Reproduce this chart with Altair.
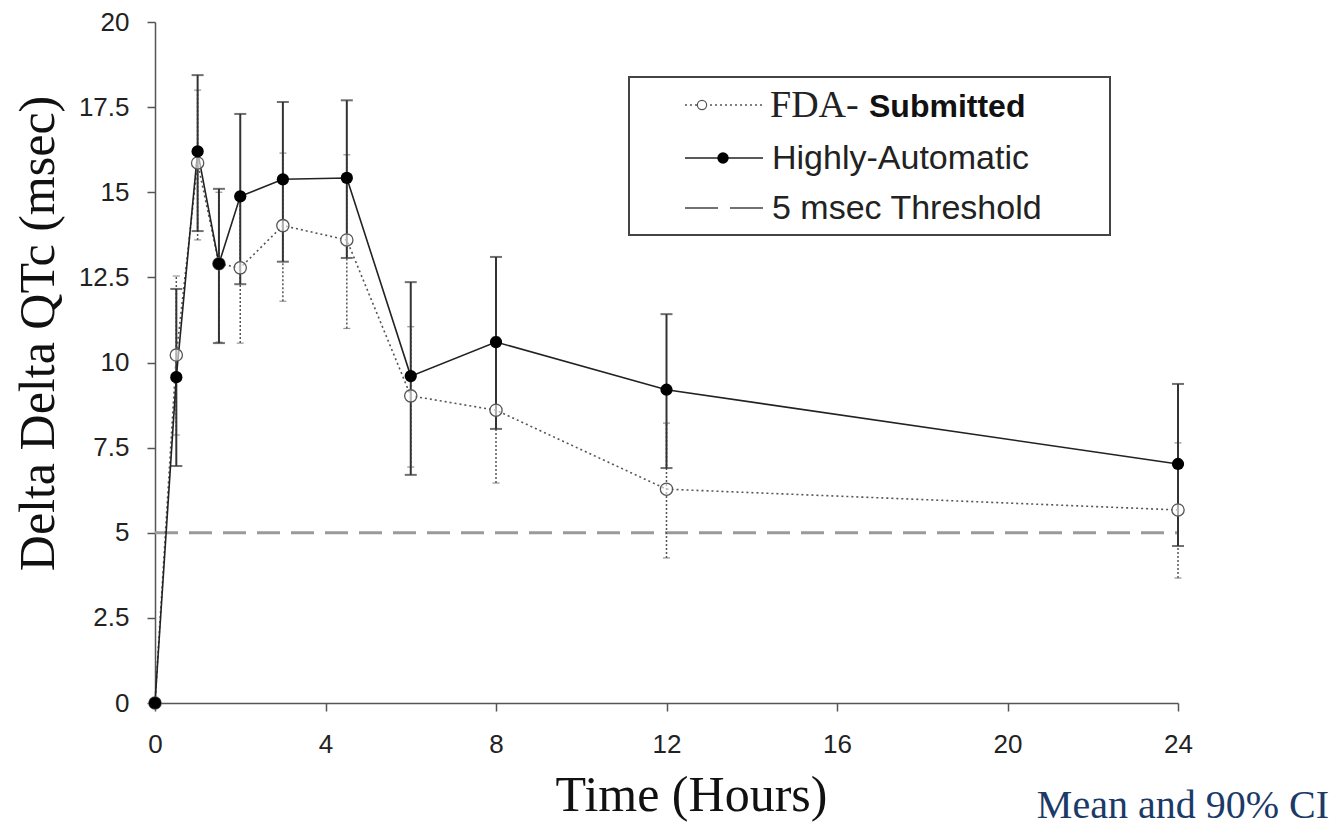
import altair as alt
import pandas as pd

# ---- data ----
times = [0, 0.5, 1, 1.5, 2, 3, 4.5, 6, 8, 12, 24]

auto_mean = [0, 9.57, 16.2, 12.9, 14.88, 15.38, 15.42, 9.6, 10.6, 9.2, 7.02]
auto_lo = [None, 6.96, 13.86, 10.57, 12.3, 12.96, 13.07, 6.7, 8.05, 6.9, 4.61]
auto_hi = [None, 12.16, 18.44, 15.1, 17.3, 17.65, 17.7, 12.36, 13.1, 11.42, 9.37]

fda_mean = [0, 10.22, 15.86, 12.9, 12.78, 14.02, 13.6, 9.02, 8.6, 6.28, 5.67]
fda_lo = [None, 7.87, 13.6, 10.6, 10.57, 11.8, 11.0, 6.93, 6.46, 4.26, 3.67]
fda_hi = [None, 12.54, 18.0, 15.0, 15.0, 16.15, 16.1, 11.05, 10.75, 8.22, 7.64]

threshold = 5
x_ticks = [0, 4, 8, 12, 16, 20, 24]
y_ticks = [0, 2.5, 5, 7.5, 10, 12.5, 15, 17.5, 20]

legend_labels = ["FDA-", "Submitted", "Highly-Automatic", "5 msec Threshold"]
note_text = "Mean and 90% CI"

auto = pd.DataFrame({"time": times, "mean": auto_mean, "lo": auto_lo, "hi": auto_hi})
fda = pd.DataFrame({"time": times, "mean": fda_mean, "lo": fda_lo, "hi": fda_hi})
thr = pd.DataFrame({"x": [0], "x2": [24], "y": [threshold]})

W, H = 1023, 681
xs = alt.Scale(domain=[0, 24], nice=False, zero=False)
ys = alt.Scale(domain=[0, 20], nice=False)

X = alt.X("time:Q", scale=xs,
          axis=alt.Axis(values=x_ticks, title="Time (Hours)", labelExpr="toString(datum.value)",
                        titleX=536, titleY=107, titleAlign="center", titleBaseline="alphabetic"))
Y = alt.Y("mean:Q", scale=ys,
          axis=alt.Axis(values=y_ticks, title="Delta Delta QTc (msec)", labelExpr="toString(datum.value)",
                        titleX=-102, titleY=311, titleAlign="center", titleBaseline="alphabetic",
                        titleAngle=270))

base_a = alt.Chart(auto)
base_f = alt.Chart(fda)

threshold_line = alt.Chart(thr).mark_rule(
    color="#9a9a9a", strokeWidth=3, strokeDash=[23, 11]
).encode(x=alt.X("x:Q", scale=xs), x2="x2:Q", y=alt.Y("y:Q", scale=ys))

# FDA error bars (dotted)
f_err = base_f.transform_filter("datum.lo != null").mark_rule(
    color="#555", strokeWidth=1.5, strokeDash=[2, 2]
).encode(x=alt.X("time:Q", scale=xs), y=alt.Y("lo:Q", scale=ys), y2="hi:Q")
f_cap_lo = base_f.transform_filter("datum.lo != null").mark_tick(
    color="#666", thickness=1.2, size=7, orient="horizontal"
).encode(x=alt.X("time:Q", scale=xs), y=alt.Y("lo:Q", scale=ys))
f_cap_hi = base_f.transform_filter("datum.lo != null").mark_tick(
    color="#666", thickness=1.2, size=7, orient="horizontal"
).encode(x=alt.X("time:Q", scale=xs), y=alt.Y("hi:Q", scale=ys))

# Highly-automatic error bars (solid)
a_err = base_a.transform_filter("datum.lo != null").mark_rule(
    color="#333", strokeWidth=2
).encode(x=alt.X("time:Q", scale=xs), y=alt.Y("lo:Q", scale=ys), y2="hi:Q")
a_cap_lo = base_a.transform_filter("datum.lo != null").mark_tick(
    color="#333", thickness=2, size=12, orient="horizontal"
).encode(x=alt.X("time:Q", scale=xs), y=alt.Y("lo:Q", scale=ys))
a_cap_hi = base_a.transform_filter("datum.lo != null").mark_tick(
    color="#333", thickness=2, size=12, orient="horizontal"
).encode(x=alt.X("time:Q", scale=xs), y=alt.Y("hi:Q", scale=ys))

f_line = base_f.mark_line(color="#555", strokeWidth=1.6, strokeDash=[2, 3]).encode(x=X, y=Y)
a_line = base_a.mark_line(color="#222", strokeWidth=1.6).encode(x=X, y=Y)

f_pts = base_f.mark_point(
    shape="circle", size=150, filled=False, color="#555", strokeWidth=1.3, fill="white", fillOpacity=0.6
).encode(x=X, y=Y)
a_pts = base_a.mark_point(
    shape="circle", size=150, filled=True, color="#000", opacity=1
).encode(x=X, y=Y)

# ---- hand-made legend box ----
one = pd.DataFrame({"k": [0]})
lg = alt.Chart(one)
box = lg.mark_rect(fill="white", stroke="#444", strokeWidth=2).encode(
    x=alt.value(474), x2=alt.value(955), y=alt.value(55), y2=alt.value(213))
r1 = 83
r2 = 136
r3 = 186
leg_l1 = lg.mark_rule(color="#555", strokeWidth=1.5, strokeDash=[2, 3]).encode(
    x=alt.value(530), x2=alt.value(608), y=alt.value(r1))
leg_p1 = lg.mark_point(shape="circle", size=85, filled=False, color="#555", fill="white",
                       fillOpacity=1, strokeWidth=1.2).encode(x=alt.value(547), y=alt.value(r1))
leg_t1a = lg.mark_text(text=legend_labels[0], font="Liberation Serif", fontSize=38,
                       align="left", baseline="alphabetic", color="#222").encode(
    x=alt.value(615), y=alt.value(r1 + 12))
leg_t1b = lg.mark_text(text=legend_labels[1], font="Liberation Sans", fontSize=32, fontWeight="bold",
                       align="left", baseline="alphabetic", color="#111").encode(
    x=alt.value(714), y=alt.value(r1 + 12))
leg_l2 = lg.mark_rule(color="#222", strokeWidth=1.6).encode(
    x=alt.value(530), x2=alt.value(608), y=alt.value(r2))
leg_p2 = lg.mark_point(shape="circle", size=130, filled=True, color="#000", opacity=1).encode(
    x=alt.value(568), y=alt.value(r2))
leg_t2 = lg.mark_text(text=legend_labels[2], font="Liberation Sans", fontSize=34,
                      align="left", baseline="middle", color="#222").encode(
    x=alt.value(617), y=alt.value(r2 + 1))
leg_l3 = lg.mark_rule(color="#444", strokeWidth=1.6, strokeDash=[33, 12]).encode(
    x=alt.value(530), x2=alt.value(608), y=alt.value(r3))
leg_t3 = lg.mark_text(text=legend_labels[3], font="Liberation Sans", fontSize=34,
                      align="left", baseline="middle", color="#222").encode(
    x=alt.value(617), y=alt.value(r3 + 1))

note = lg.mark_text(text=note_text, font="Liberation Serif", fontSize=40,
                    align="right", baseline="alphabetic", color="#1b3a68").encode(
    x=alt.value(1174), y=alt.value(796))

chart = alt.layer(
    threshold_line, f_err, f_cap_lo, f_cap_hi, a_err, a_cap_lo, a_cap_hi,
    f_line, a_line, f_pts, a_pts,
    box, leg_l1, leg_p1, leg_t1a, leg_t1b, leg_l2, leg_p2, leg_t2, leg_l3, leg_t3, note
).properties(
    width=W, height=H,
    autosize=alt.AutoSizeParams(type="none"),
    padding={"left": 147, "top": 14, "right": 158, "bottom": 124},
).configure_view(stroke=None).configure_axis(
    grid=False, labelFlush=False,
    domainColor="#555", domainWidth=1.5,
    tickColor="#555", tickWidth=1.5, tickSize=8,
    labelFont="Liberation Sans", labelFontSize=26, labelColor="#222",
    titleFont="Liberation Serif", titleFontSize=50, titleFontWeight="normal", titleColor="#111",
).configure_axisX(labelPadding=20).configure_axisY(labelPadding=18)

chart.save("out.html", embed_options={"renderer": "svg", "actions": False})
